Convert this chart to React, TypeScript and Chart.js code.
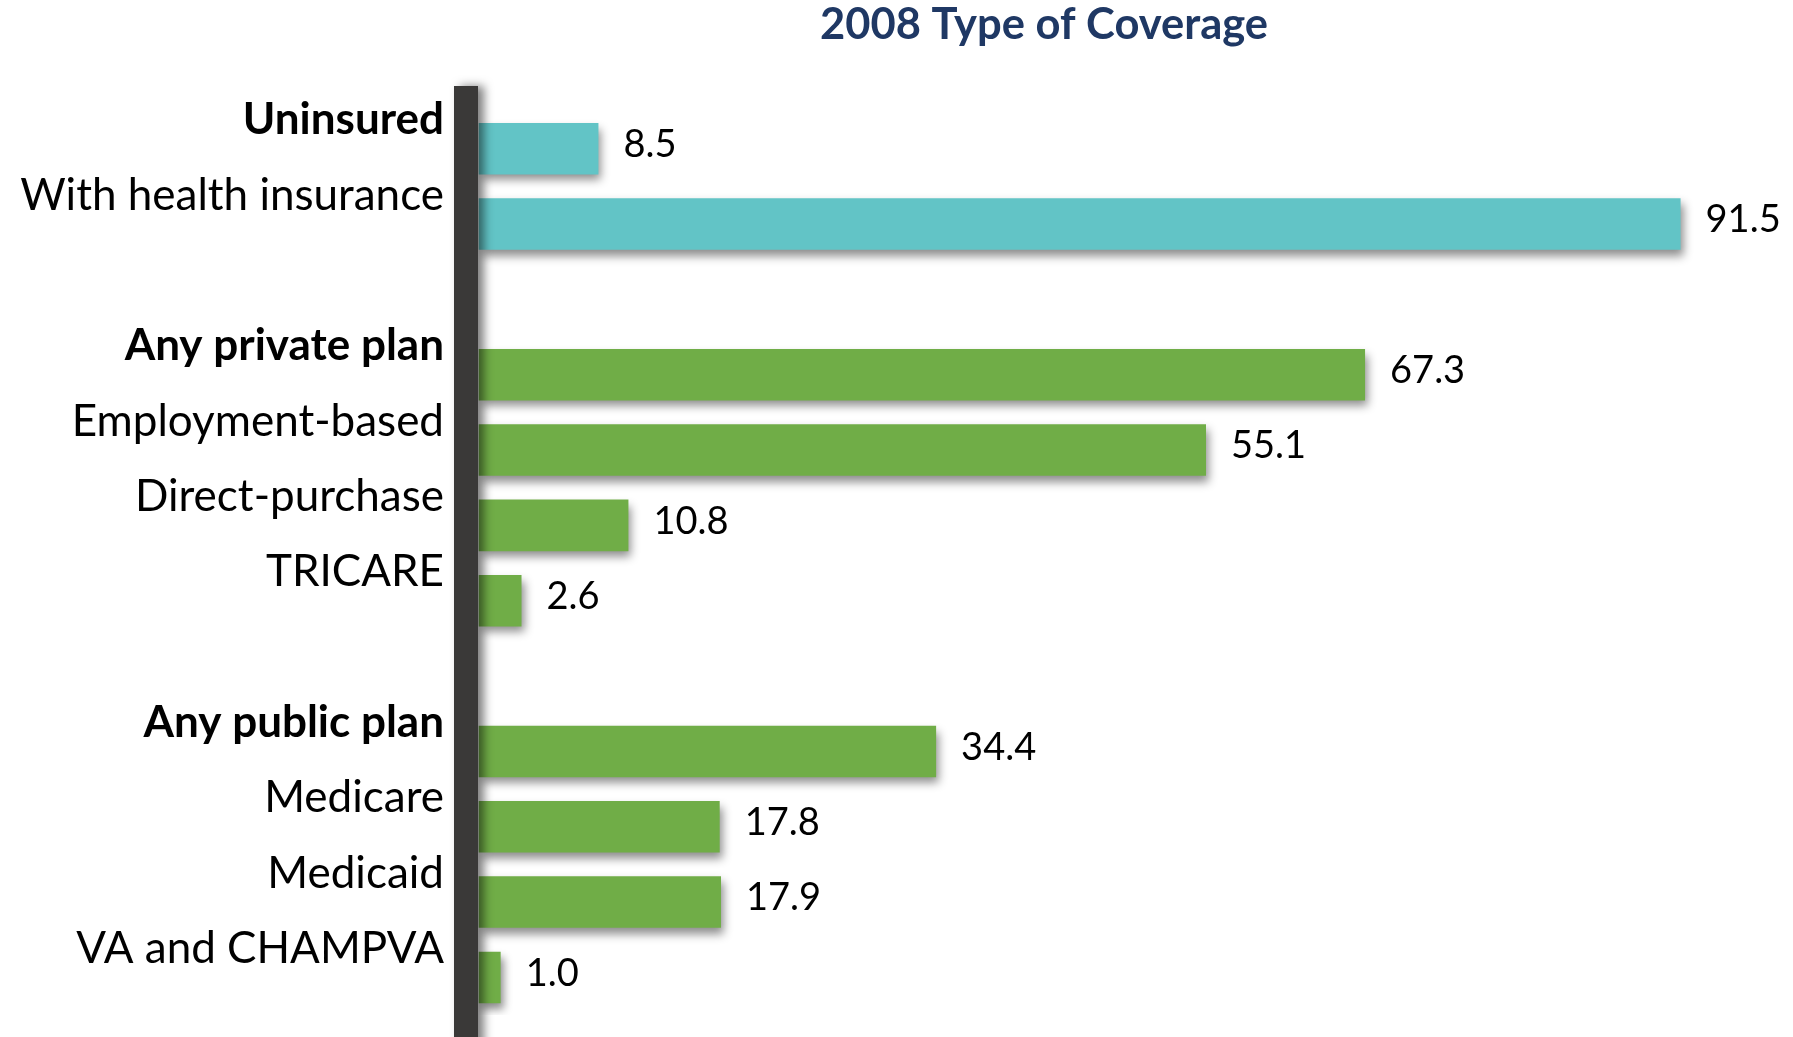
import React, { useEffect, useRef } from "react";
import { Chart, registerables } from "chart.js";

Chart.register(...registerables);

const chartTitle = "2008 Type of Coverage";
const categories = [
  "Uninsured",
  "With health insurance",
  "",
  "Any private plan",
  "Employment-based",
  "Direct-purchase",
  "TRICARE",
  "",
  "Any public plan",
  "Medicare",
  "Medicaid",
  "VA and CHAMPVA",
];
const values = [8.5, 91.5, null, 67.3, 55.1, 10.8, 2.6, null, 34.4, 17.8, 17.9, 1.0];
const valueLabels = ["8.5", "91.5", "", "67.3", "55.1", "10.8", "2.6", "", "34.4", "17.8", "17.9", "1.0"];
const groupOfCategory = ["total", "total", "", "private", "private", "private", "private", "", "public", "public", "public", "public"];
const boldLabels = ["Uninsured", "Any private plan", "Any public plan"];

const groupColors: Record<string, string> = {
  total: "#62C4C6",
  private: "#70AD47",
  public: "#70AD47",
  "": "#70AD47",
};

const FONT = "Lato";
const W = 1793;
const H = 1037;

const shadowPlugin = {
  id: "barShadow",
  beforeDatasetsDraw(chart: any) {
    const ctx = chart.ctx;
    ctx.save();
    ctx.shadowColor = "rgba(0,0,0,0.45)";
    ctx.shadowBlur = 9;
    ctx.shadowOffsetX = 3;
    ctx.shadowOffsetY = 6;
  },
  afterDatasetsDraw(chart: any) {
    chart.ctx.restore();
  },
};

const axisAndLabelsPlugin = {
  id: "axisAndLabels",
  afterDatasetsDraw(chart: any) {
    const ctx = chart.ctx;
    const area = chart.chartArea;
    // thick vertical axis bar with shadow
    ctx.save();
    ctx.shadowColor = "rgba(0,0,0,0.5)";
    ctx.shadowBlur = 10;
    ctx.shadowOffsetX = 6;
    ctx.shadowOffsetY = 0;
    ctx.fillStyle = "#3A3938";
    ctx.fillRect(area.left - 24.5, 86, 24, chart.height - 86 + 20);
    ctx.restore();

    // value labels
    const meta = chart.getDatasetMeta(0);
    ctx.save();
    ctx.font = `normal 38px ${FONT}`;
    ctx.fillStyle = "#000";
    ctx.textAlign = "left";
    ctx.textBaseline = "middle";
    meta.data.forEach((bar: any, i: number) => {
      if (values[i] == null) return;
      ctx.fillText(valueLabels[i], bar.x + 25, bar.y - 4);
    });
    ctx.restore();

    // title
    ctx.save();
    ctx.font = `bold 43.5px ${FONT}`;
    ctx.fillStyle = "#1F3864";
    ctx.textAlign = "center";
    ctx.textBaseline = "middle";
    ctx.fillText(chartTitle, chart.width * 0.5823, 25);
    ctx.restore();
  },
};

export default function App() {
  const ref = useRef<HTMLCanvasElement | null>(null);

  useEffect(() => {
    document.body.style.margin = "0";
    const canvas = ref.current;
    if (!canvas) return;
    const chart = new Chart(canvas, {
      type: "bar",
      data: {
        labels: categories,
        datasets: [
          {
            data: values as any,
            backgroundColor: groupOfCategory.map((g) => groupColors[g]),
            borderWidth: 0,
            base: -0.7,
            barPercentage: 0.684,
            categoryPercentage: 1,
          } as any,
        ],
      },
      options: {
        indexAxis: "y",
        animation: false,
        responsive: false,
        maintainAspectRatio: false,
        layout: { padding: { top: 111, bottom: 21.9, left: 0, right: 1.6 } },
        plugins: {
          legend: { display: false },
          title: { display: false },
          tooltip: { enabled: false },
        },
        scales: {
          x: {
            display: false,
            min: -0.7,
            max: 100,
          },
          y: {
            type: "category",
            grid: { display: false, drawTicks: false },
            border: { display: false },
            afterFit: (scale: any) => {
              scale.width = 478.5;
              scale.paddingTop = 0;
              scale.paddingBottom = 0;
            },
            ticks: {
              autoSkip: false,
              padding: 34.5,
              labelOffset: -28.5,
              color: "#000",
              font: (c: any) => ({
                family: FONT,
                size: 44,
                weight: boldLabels.includes(categories[c.index]) ? "bold" : "normal",
              }),
            },
          },
        },
      },
      plugins: [shadowPlugin, axisAndLabelsPlugin],
    });
    return () => chart.destroy();
  }, []);

  return (
    <div style={{ position: "fixed", left: 0, top: 0, width: W, height: H, background: "#fff" }}>
      <canvas ref={ref} width={W} height={H} style={{ width: W, height: H, display: "block" }} />
    </div>
  );
}
